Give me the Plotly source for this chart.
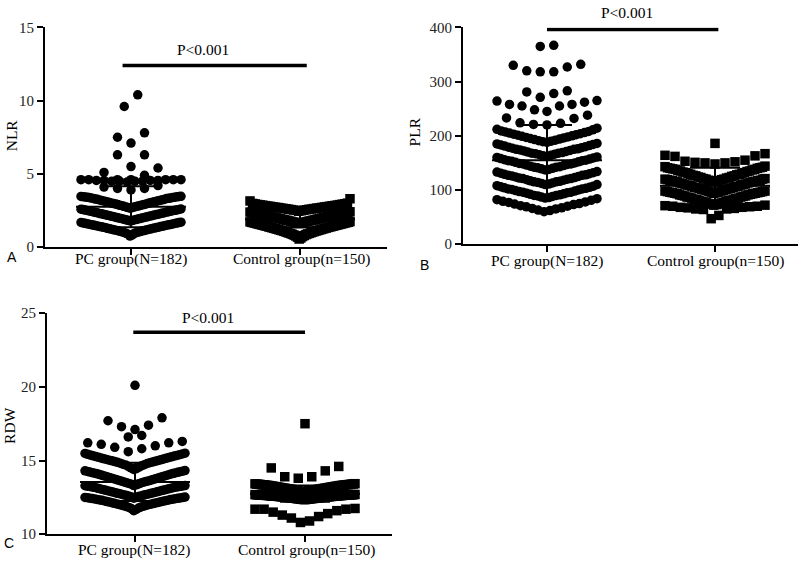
import plotly.graph_objects as go

W, H = 800, 568

categories = ["PC group(N=182)", "Control group(n=150)"]
p_label = "P<0.001"

# ---------------- NLR (values grouped in the rows they are stacked in) -------------
nlr_pc_rows = [
    [10.4, 9.6],
    [7.8, 7.5, 7.1],
    [6.3, 6.3, 5.5],
    [5.4, 5.1, 4.9, 4.6, 4.6],
    [4.45, 4.5, 4.5, 4.5, 4.55, 4.55, 4.55, 4.6, 4.6, 4.6, 4.6, 4.6, 4.55, 4.5],
    [3.9, 4.0, 4.0, 4.1, 4.2],
    [2.66, 2.69, 2.7, 2.73, 2.74, 2.77, 2.78, 2.8, 2.83, 2.84, 2.85, 2.88, 2.9, 2.91,
     2.94, 2.95, 2.97, 2.99, 3.0, 3.02, 3.05, 3.06, 3.08, 3.09, 3.12, 3.13, 3.15, 3.17,
     3.18, 3.2, 3.22, 3.23, 3.26, 3.27, 3.28, 3.31, 3.32, 3.33, 3.35, 3.36, 3.38, 3.39,
     3.4, 3.41, 3.42, 3.43, 3.44, 3.45, 3.46, 3.47],
    [1.78, 1.8, 1.83, 1.85, 1.86, 1.88, 1.9, 1.92, 1.94, 1.95, 1.97, 1.99, 2.0, 2.02,
     2.04, 2.05, 2.07, 2.09, 2.1, 2.12, 2.14, 2.15, 2.17, 2.19, 2.2, 2.22, 2.24, 2.25,
     2.27, 2.29, 2.3, 2.32, 2.34, 2.35, 2.37, 2.39, 2.4, 2.42, 2.44, 2.45, 2.47, 2.48,
     2.5, 2.51, 2.53, 2.54, 2.56, 2.57, 2.59, 2.6],
    [0.75, 0.82, 0.88, 0.92, 0.95, 0.98, 1.0, 1.02, 1.04, 1.06, 1.08, 1.1, 1.12, 1.13,
     1.15, 1.17, 1.18, 1.2, 1.22, 1.23, 1.25, 1.27, 1.28, 1.3, 1.32, 1.33, 1.35, 1.36,
     1.38, 1.4, 1.41, 1.43, 1.44, 1.46, 1.47, 1.49, 1.5, 1.52, 1.53, 1.55, 1.56, 1.58,
     1.59, 1.61, 1.62, 1.64, 1.65, 1.67, 1.68, 1.7],
]
nlr_ctrl_rows = [
    [2.45, 2.48, 2.5, 2.52, 2.53, 2.55, 2.56, 2.58, 2.59, 2.6, 2.62, 2.63, 2.64, 2.66,
     2.67, 2.68, 2.7, 2.71, 2.72, 2.74, 2.75, 2.76, 2.78, 2.79, 2.8, 2.82, 2.83, 2.84,
     2.86, 2.87, 2.88, 2.9, 2.91, 2.93, 2.95, 2.96, 2.98, 3.0, 3.15, 3.3],
    [1.6, 1.63, 1.65, 1.67, 1.69, 1.71, 1.72, 1.74, 1.76, 1.78, 1.79, 1.81, 1.83, 1.84,
     1.86, 1.88, 1.89, 1.91, 1.93, 1.94, 1.96, 1.98, 1.99, 2.01, 2.02, 2.04, 2.06, 2.07,
     2.09, 2.1, 2.12, 2.14, 2.15, 2.17, 2.18, 2.2, 2.21, 2.23, 2.24, 2.26, 2.27, 2.29,
     2.3, 2.32, 2.33, 2.35, 2.36, 2.38, 2.39, 2.41],
    [0.55, 0.62, 0.68, 0.72, 0.76, 0.79, 0.82, 0.85, 0.87, 0.9, 0.92, 0.94, 0.96, 0.98,
     1.0, 1.02, 1.04, 1.06, 1.08, 1.1, 1.12, 1.13, 1.15, 1.17, 1.19, 1.2, 1.22, 1.24,
     1.25, 1.27, 1.29, 1.3, 1.32, 1.34, 1.35, 1.37, 1.38, 1.4, 1.42, 1.43, 1.45, 1.46,
     1.48, 1.49, 1.51, 1.52, 1.54, 1.55, 1.57, 1.58, 1.6, 1.61, 1.63, 1.64, 1.66, 1.67,
     1.69, 1.7, 1.72, 1.74],
]
nlr_mean = [2.75, 1.9]
nlr_sd = [1.4, 0.55]

# ---------------- PLR ----------------
plr_pc_rows = [
    [365, 367],
    [332, 327, 318, 318, 320, 330],
    [281, 271, 278, 283],
    [264, 258, 255, 248, 245, 255, 258, 262, 265],
    [238, 232, 224, 221, 220, 223, 233],
    [188, 189, 190, 191, 192, 193, 194, 195, 196, 197, 198, 199, 200, 201, 202, 203,
     204, 205, 206, 207, 208, 209, 211, 212, 214],
    [162, 163, 164, 165, 166, 167, 168, 168, 169, 170, 171, 172, 173, 174, 175, 175,
     176, 177, 178, 179, 180, 181, 182, 183, 184, 185, 186],
    [137, 138, 139, 140, 141, 142, 142, 143, 144, 145, 146, 147, 148, 148, 149, 150,
     151, 152, 153, 154, 154, 155, 156, 157, 158, 159, 160, 161],
    [110, 111, 112, 113, 114, 115, 115, 116, 117, 118, 119, 120, 121, 121, 122, 123,
     124, 125, 126, 127, 127, 128, 129, 130, 131, 132, 133, 134],
    [85, 86, 87, 88, 89, 90, 90, 91, 92, 93, 94, 95, 96, 96, 97, 98, 99, 100, 101, 102,
     102, 103, 104, 105, 106, 107, 108, 110],
    [60, 62, 63, 65, 66, 67, 69, 70, 71, 73, 74, 75, 77, 78, 79, 81, 82, 84],
]
plr_ctrl_rows = [
    [186],
    [148, 150, 150, 151, 152, 153, 155, 162, 163, 164, 167],
    [115, 116, 117, 117, 118, 119, 120, 120, 121, 122, 123, 123, 124, 125, 126, 126,
     127, 128, 129, 129, 130, 131, 132, 132, 133, 134, 135, 135, 136, 137, 138, 138,
     139, 140, 140, 141, 141, 142, 143, 144],
    [94, 95, 96, 96, 97, 98, 99, 99, 100, 101, 101, 102, 103, 103, 104, 105, 105, 106,
     107, 107, 108, 109, 109, 110, 111, 111, 112, 113, 113, 114, 115, 115, 116, 116,
     117, 117, 118, 118, 119, 120, 120, 121],
    [72, 73, 74, 74, 75, 76, 77, 77, 78, 79, 79, 80, 81, 81, 82, 83, 83, 84, 85, 85,
     86, 87, 87, 88, 89, 89, 90, 91, 91, 92, 93, 93, 94, 94, 95, 95, 96, 96, 97, 97,
     98, 98],
    [47, 53, 64, 65, 65, 66, 67, 68, 68, 69, 70, 70, 71, 72],
]
plr_mean = [155, 108]
plr_sd = [65, 33]

# ---------------- RDW ----------------
rdw_pc_rows = [
    [20.1],
    [17.1, 17.3, 17.4, 17.7, 17.9],
    [16.6, 16.7],
    [15.6, 15.8, 15.9, 16.0, 16.1, 16.2, 16.2, 16.3],
    [14.4, 14.45, 14.5, 14.55, 14.6, 14.65, 14.7, 14.72, 14.75, 14.8, 14.82, 14.85,
     14.88, 14.9, 14.93, 14.95, 14.98, 15.0, 15.02, 15.05, 15.07, 15.1, 15.12, 15.15,
     15.17, 15.2, 15.22, 15.25, 15.27, 15.3, 15.32, 15.35, 15.37, 15.4, 15.42, 15.45,
     15.48, 15.5],
    [13.3, 13.35, 13.4, 13.42, 13.45, 13.48, 13.5, 13.53, 13.55, 13.58, 13.6, 13.62,
     13.65, 13.67, 13.7, 13.72, 13.75, 13.77, 13.8, 13.82, 13.85, 13.87, 13.9, 13.92,
     13.95, 13.97, 14.0, 14.02, 14.05, 14.07, 14.1, 14.12, 14.14, 14.16, 14.18, 14.2,
     14.22, 14.24, 14.26, 14.28, 14.3, 14.32],
    [12.45, 12.5, 12.53, 12.56, 12.58, 12.6, 12.62, 12.64, 12.66, 12.68, 12.7, 12.72,
     12.74, 12.76, 12.78, 12.8, 12.82, 12.84, 12.86, 12.88, 12.9, 12.92, 12.94, 12.96,
     12.98, 13.0, 13.02, 13.04, 13.06, 13.08, 13.1, 13.12, 13.14, 13.16, 13.18, 13.2,
     13.21, 13.22, 13.24, 13.25, 13.26, 13.28, 13.29, 13.3],
    [11.6, 11.68, 11.74, 11.78, 11.82, 11.85, 11.88, 11.9, 11.93, 11.95, 11.97, 12.0,
     12.02, 12.04, 12.06, 12.08, 12.1, 12.12, 12.14, 12.16, 12.18, 12.2, 12.22, 12.24,
     12.26, 12.28, 12.3, 12.31, 12.33, 12.35, 12.36, 12.38, 12.39, 12.41, 12.42, 12.44,
     12.45, 12.46, 12.48, 12.49, 12.5, 12.52],
]
rdw_ctrl_rows = [
    [17.5],
    [13.8, 13.9, 13.9, 14.3, 14.5, 14.6],
    [12.85, 12.87, 12.88, 12.9, 12.91, 12.92, 12.93, 12.95, 12.96, 12.97, 12.98, 13.0,
     13.01, 13.02, 13.03, 13.04, 13.05, 13.06, 13.07, 13.08, 13.09, 13.1, 13.11, 13.12,
     13.13, 13.14, 13.15, 13.16, 13.17, 13.18, 13.19, 13.2, 13.21, 13.22, 13.23, 13.24,
     13.25, 13.26, 13.27, 13.28, 13.29, 13.3, 13.31, 13.31, 13.32, 13.33, 13.34, 13.34,
     13.35, 13.36, 13.36, 13.37, 13.38, 13.38, 13.39, 13.4, 13.4, 13.41, 13.42, 13.43],
    [12.35, 12.36, 12.37, 12.37, 12.38, 12.39, 12.39, 12.4, 12.41, 12.41, 12.42, 12.42,
     12.43, 12.44, 12.44, 12.45, 12.45, 12.46, 12.47, 12.47, 12.48, 12.48, 12.49, 12.5,
     12.5, 12.51, 12.51, 12.52, 12.52, 12.53, 12.53, 12.54, 12.54, 12.55, 12.55, 12.56,
     12.56, 12.57, 12.57, 12.58, 12.58, 12.59, 12.59, 12.6, 12.6, 12.6, 12.61, 12.61,
     12.62, 12.62, 12.62, 12.63, 12.63, 12.64, 12.64, 12.64, 12.65, 12.65, 12.65, 12.66,
     12.66, 12.66, 12.67, 12.67, 12.67, 12.68, 12.68, 12.68, 12.69, 12.69, 12.7],
    [10.8, 10.9, 11.1, 11.2, 11.3, 11.4, 11.5, 11.6, 11.7, 11.7, 11.7, 11.75],
]
rdw_mean = [13.55, 12.75]
rdw_sd = [1.3, 0.55]

# ---------------- layout (pixel geometry of each panel) ----------------
panels = [
    dict(letter="A", title="NLR", rows=(nlr_pc_rows, nlr_ctrl_rows), mean=nlr_mean, sd=nlr_sd,
         L=45, R=387, t1=131, t2=300, ybot=246, ytop=20, yr=(0, 15), dtick=5,
         bar=(0.95, 2.04, 12.4), ptxt=(203, 43), title_px=(11, 131), letter_px=(12, 256),
         cat_y=258, cat_x=(131, 301)),
    dict(letter="B", title="PLR", rows=(plr_pc_rows, plr_ctrl_rows), mean=plr_mean, sd=plr_sd,
         L=463, R=798, t1=547, t2=715, ybot=243, ytop=20, yr=(0, 400), dtick=100,
         bar=(1.0, 2.02, 396), ptxt=(627, 5), title_px=(414, 127), letter_px=(424, 264),
         cat_y=260, cat_x=(547, 715)),
    dict(letter="C", title="RDW", rows=(rdw_pc_rows, rdw_ctrl_rows), mean=rdw_mean, sd=rdw_sd,
         L=47, R=392, t1=135, t2=305, ybot=541.5, ytop=314, yr=(10, 25), dtick=5,
         bar=(0.99, 2.0, 23.7), ptxt=(208, 318), title_px=(10, 430), letter_px=(9, 550),
         cat_y=558, cat_x=(134, 306)),
]

SWARM_W = 100.0   # px, max width of a row
STEP = 13.5       # px, spacing of sparse rows
MEAN_HW = 55.0    # px
CAP_HW = 25.0     # px
SYMBOLS = ["circle", "square"]
serif = "Liberation Serif, Times New Roman, serif"
sans = "Liberation Sans, Arial, sans-serif"


def swarm(rows, center, ppu):
    xs, ys = [], []
    for row in rows:
        vals = sorted(row)
        n = len(vals)
        s = STEP if n < 2 else min(STEP, SWARM_W / (n - 1))
        for i, v in enumerate(vals):
            if n % 2:
                k = (i + 1) // 2
                slot = 0 if i == 0 else (-k if i % 2 else k)
            else:
                k = i // 2 + 0.5
                slot = -k if i % 2 == 0 else k
            xs.append(center + slot * s / ppu)
            ys.append(v)
    return xs, ys


def paper(px, py):
    return px / W, 1 - py / H


fig = go.Figure()
annotations = []
shapes = []

for idx, p in enumerate(panels):
    sfx = "" if idx == 0 else str(idx + 1)
    ppu = p["t2"] - p["t1"]
    xr = [1 - (p["t1"] - p["L"]) / ppu, 1 + (p["R"] - p["t1"]) / ppu]
    xdom = [p["L"] / W, p["R"] / W]
    ydom = [1 - p["ybot"] / H, 1 - p["ytop"] / H]
    xa, ya = "x" + sfx, "y" + sfx

    for g in range(2):
        xs, ys = swarm(p["rows"][g], g + 1, ppu)
        fig.add_trace(go.Scatter(
            x=xs, y=ys, mode="markers", xaxis=xa, yaxis=ya, showlegend=False,
            marker=dict(symbol=SYMBOLS[g], size=9.5, color="black", line=dict(width=0)),
            cliponaxis=False, hoverinfo="y"))

    # mean and SD lines
    for g in range(2):
        c = g + 1
        m, s = p["mean"][g], p["sd"][g]
        mh, ch = MEAN_HW / ppu, CAP_HW / ppu
        lx = [c - mh, c + mh, None, c - ch, c + ch, None, c - ch, c + ch, None, c, c]
        ly = [m, m, None, m + s, m + s, None, m - s, m - s, None, m - s, m + s]
        fig.add_trace(go.Scatter(x=lx, y=ly, mode="lines", xaxis=xa, yaxis=ya,
                                 showlegend=False, line=dict(color="black", width=2),
                                 hoverinfo="skip"))

    axis_common = dict(showgrid=False, zeroline=False, showline=True, linecolor="black",
                       linewidth=2, ticks="outside", tickcolor="black", tickwidth=2,
                       fixedrange=True)
    fig.update_layout(**{
        "xaxis" + sfx: dict(domain=xdom, range=xr, anchor=ya, tickmode="array",
                            tickvals=[1, 2], ticktext=["", ""], ticklen=6,
                            **axis_common),
        "yaxis" + sfx: dict(domain=ydom, range=list(p["yr"]), anchor=xa, tick0=p["yr"][0],
                            dtick=p["dtick"], ticklen=6,
                            tickfont=dict(family=serif, size=15, color="#222"),
                            **axis_common),
    })

    x0, x1, yb = p["bar"]
    shapes.append(dict(type="line", xref=xa, yref=ya, x0=x0, x1=x1, y0=yb, y1=yb,
                       line=dict(color="black", width=3.5)))

    for g in range(2):
        ax, ay = paper(p["cat_x"][g], p["cat_y"])
        annotations.append(dict(text=categories[g], xref="paper", yref="paper", x=ax, y=ay,
                                xanchor="center", yanchor="middle", showarrow=False,
                                font=dict(family=serif, size=15.5, color="black")))

    ax, ay = paper(*p["ptxt"])
    annotations.append(dict(text=p_label, xref="paper", yref="paper", x=ax, y=ay,
                            xanchor="center", yanchor="middle", showarrow=False,
                            font=dict(family=serif, size=15.5, color="black")))
    ax, ay = paper(*p["title_px"])
    annotations.append(dict(text=p["title"], xref="paper", yref="paper", x=ax, y=ay,
                            xanchor="center", yanchor="middle", showarrow=False,
                            textangle=-90,
                            font=dict(family=serif, size=15.5, color="black")))
    ax, ay = paper(*p["letter_px"])
    annotations.append(dict(text=p["letter"], xref="paper", yref="paper", x=ax, y=ay,
                            xanchor="center", yanchor="middle", showarrow=False,
                            font=dict(family=sans, size=14, color="black")))

fig.update_layout(width=W, height=H, margin=dict(l=0, r=0, t=0, b=0),
                  paper_bgcolor="white", plot_bgcolor="white",
                  annotations=annotations, shapes=shapes, showlegend=False)

fig.write_html("out.html", post_script="document.body.style.margin='0px';",
               config={"displayModeBar": False})
